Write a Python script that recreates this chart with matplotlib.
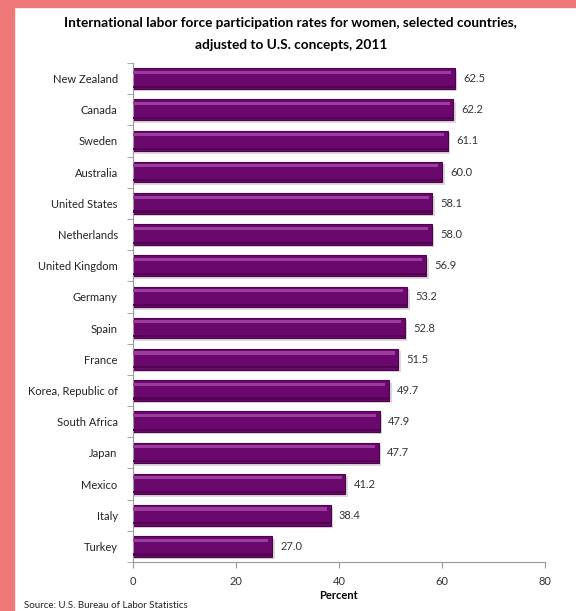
import numpy as np
import matplotlib.pyplot as plt
from matplotlib.patches import Rectangle

countries = ["New Zealand", "Canada", "Sweden", "Australia", "United States",
             "Netherlands", "United Kingdom", "Germany", "Spain", "France",
             "Korea, Republic of", "South Africa", "Japan", "Mexico", "Italy", "Turkey"]
rates = [62.5, 62.2, 61.1, 60.0, 58.1, 58.0, 56.9, 53.2, 52.8, 51.5,
         49.7, 47.9, 47.7, 41.2, 38.4, 27.0]

plt.rcParams['font.family'] = ['Lato', 'DejaVu Sans']

fig = plt.figure(figsize=(5.76, 6.11), dpi=100)
fig.patch.set_facecolor('white')

# salmon frame on the left and top
fig.add_artist(Rectangle((0, 0), 14/576, 1, transform=fig.transFigure,
                         color='#ee7777', zorder=0))
fig.add_artist(Rectangle((0, 1-7/611), 1, 7/611, transform=fig.transFigure,
                         color='#ee7777', zorder=0))

ax = fig.add_axes([133/576, 1-562/611, 412/576, 499/611])
y = np.arange(len(countries))
h = 0.66

# shadow, bar, highlight, dark lower edge
ax.barh(y + 0.08, [r + 0.5 for r in rates], height=h, color='#dadada', zorder=1)
ax.barh(y, rates, height=h, color='#6b086d', edgecolor='#4d034d', linewidth=0.8, zorder=2)
ax.barh(y - h/2 + 0.13, [r - 0.7 for r in rates], height=0.1, color='#9c3c9e',
        linewidth=0, zorder=3)
ax.barh(y + h/2 - 0.07, rates, height=0.07, color='#520452', linewidth=0, zorder=3)

for yi, r in zip(y, rates):
    ax.text(r + 1.6, yi, f"{r:.1f}", va='center', ha='left', fontsize=8, color='#333333')

ax.set_xlim(0, 80)
ax.set_ylim(len(countries) - 0.5, -0.5)
ax.set_xticks([0, 20, 40, 60, 80])
ax.set_yticks(y)
ax.set_yticklabels(countries)
ax.set_yticks(np.arange(len(countries) + 1) - 0.5, minor=True)
ax.tick_params(axis='y', which='major', length=0, pad=11, labelsize=8, colors='#222222')
ax.tick_params(axis='y', which='minor', length=4, color='#999999')
ax.tick_params(axis='x', length=4, color='#999999', labelsize=8, labelcolor='#333333', pad=6)
for s in ['top', 'right']:
    ax.spines[s].set_visible(False)
for s in ['left', 'bottom']:
    ax.spines[s].set_color('#999999')
    ax.spines[s].set_linewidth(0.8)
ax.set_xlabel("Percent", fontsize=8, fontweight='bold', labelpad=2)

fig.text(0.505, 1-23/611, "International labor force participation rates for women, selected countries,",
         ha='center', va='center', fontsize=9.8, fontweight='bold')
fig.text(0.505, 1-45/611, "adjusted to U.S. concepts, 2011",
         ha='center', va='center', fontsize=9.8, fontweight='bold')
fig.text(24/576, 1-605/611, "Source: U.S. Bureau of Labor Statistics",
         ha='left', va='center', fontsize=7, color='#222222')

fig.savefig('out.png', dpi=100)
